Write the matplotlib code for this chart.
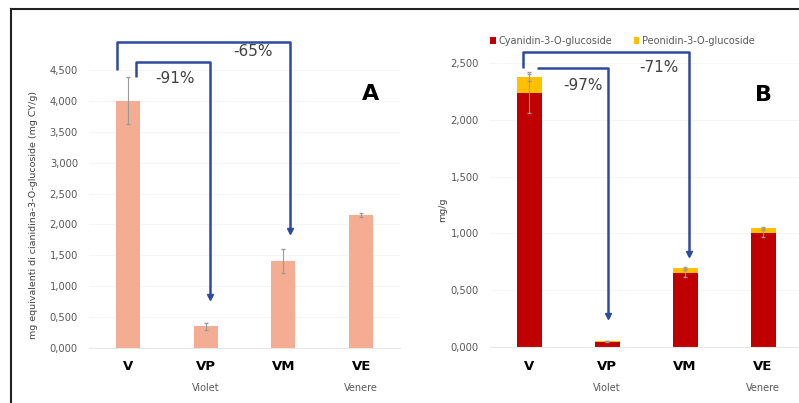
import matplotlib
matplotlib.use("Agg")
import matplotlib.pyplot as plt
import matplotlib.transforms as mtransforms
from matplotlib.lines import Line2D
from matplotlib.ticker import FuncFormatter
import numpy as np

plt.rcParams['font.family'] = ['DejaVu Sans']

categories = ["V", "VP", "VM", "VE"]
groups = {"Violet": 1, "Venere": 3}

# Panel A: total anthocyanins (mg CY/g)
a_values = [4.00, 0.35, 1.41, 2.15]
a_errors = [0.38, 0.06, 0.20, 0.03]

# Panel B: individual anthocyanins (mg/g)
b_cyanidin = [2.24, 0.045, 0.65, 1.00]
b_peonidin = [0.135, 0.010, 0.045, 0.05]
b_cy_err = [0.18, 0.005, 0.03, 0.03]
b_pe_err = [0.03, 0.002, 0.01, 0.01]

a_labels = ["-91%", "-65%"]
b_labels = ["-97%", "-71%"]

W, H = 799, 403
fig = plt.figure(figsize=(W / 100, H / 100), dpi=100)

def px_axes(l, r, top, bottom):
    return fig.add_axes([l / W, 1 - bottom / H, (r - l) / W, (bottom - top) / H])

salmon = "#F4AC92"
red = "#C00000"
yellow = "#FFC000"
blue = "#2E4B9B"
gray_txt = "#595959"

fmt = FuncFormatter(lambda v, p: f"{v:.3f}".replace(".", ","))

def style(ax, ymax, step, xmax=3.5):
    ax.set_xlim(-0.5, xmax)
    ax.set_ylim(0, ymax)
    ax.set_yticks(np.arange(0, ymax + 1e-9, step))
    ax.yaxis.set_major_formatter(fmt)
    for s in ["top", "right", "left"]:
        ax.spines[s].set_visible(False)
    ax.spines["bottom"].set_color("#E8E8E8")
    ax.tick_params(axis="both", length=0)
    ax.tick_params(axis="y", labelsize=7.2, labelcolor=gray_txt, pad=8)
    ax.set_xticks(range(len(categories)))
    ax.set_xticklabels(categories, fontsize=9.5, fontweight="bold")
    ax.tick_params(axis="x", pad=9)
    ax.grid(axis="y", color="#F5F5F5", lw=0.8)
    ax.set_axisbelow(True)
    ax.patch.set_alpha(0)
    tr = mtransforms.blended_transform_factory(ax.transData, fig.transFigure)
    for name, xi in groups.items():
        fig.text(xi, 1 - 388 / H, name, transform=tr, ha="center", va="center",
                 fontsize=7, color=gray_txt)

def bracket(ax, x0, y0, ytop, x1, yend, label, lx, ly):
    ax.plot([x0, x0, x1, x1], [y0, ytop, ytop, yend + 0.03 * ax.get_ylim()[1]],
            color=blue, lw=1.8, clip_on=False, solid_capstyle="butt", zorder=5)
    ax.plot([x1], [yend + 0.02 * ax.get_ylim()[1]], marker="v", color=blue, ms=5,
            clip_on=False, zorder=5)
    ax.text(lx, ly, label, fontsize=11, color="#404040", ha="center", va="center")

x = np.arange(len(categories))

# ---------- Panel A ----------
axA = px_axes(89.1, 400, 70, 348)
style(axA, 4.5, 0.5)
axA.bar(x, a_values, width=0.31, color=salmon, zorder=2)
axA.errorbar(x, a_values, yerr=a_errors, fmt="none", ecolor="#9A9A9A", elinewidth=0.8,
             capsize=1.2, zorder=3)
fig.text(34 / W, 1 - 215 / H, "mg equivalenti di cianidina-3-O-glucoside (mg CY/g)",
         rotation=90, ha="center", va="center", fontsize=6.8, color="#404040")
bracket(axA, -0.14, 4.50, 4.95, 2.08, 1.80, a_labels[1], 1.61, 4.80)
bracket(axA, 0.10, 4.38, 4.63, 1.06, 0.73, a_labels[0], 0.60, 4.37)
axA.text(3.12, 4.11, "A", fontsize=16, fontweight="bold", ha="center", va="center")

# ---------- Panel B ----------
axB = px_axes(490, 799, 63, 347)
style(axB, 2.5, 0.5, xmax=3.46)
axB.bar(x, b_cyanidin, width=0.32, color=red, zorder=2, label="Cyanidin-3-O-glucoside")
axB.bar(x, b_peonidin, bottom=b_cyanidin, width=0.32, color=yellow, zorder=2,
        label="Peonidin-3-O-glucoside")
axB.errorbar(x, b_cyanidin, yerr=b_cy_err, fmt="none", ecolor="#9A9A9A", elinewidth=0.8,
             capsize=1.2, zorder=3)
tot = np.array(b_cyanidin) + np.array(b_peonidin)
axB.errorbar(x, tot, yerr=b_pe_err, fmt="none", ecolor="#9A9A9A", elinewidth=0.8,
             capsize=1.2, zorder=3)
fig.text(443 / W, 1 - 210 / H, "mg/g", rotation=90, ha="center", va="center",
         fontsize=6.8, color="#404040")
bracket(axB, -0.08, 2.456, 2.60, 2.05, 0.766, b_labels[1], 1.66, 2.46)
bracket(axB, 0.10, 2.46, 2.46, 1.01, 0.22, b_labels[0], 0.69, 2.30)
axB.text(3.0, 2.22, "B", fontsize=16, fontweight="bold", ha="center", va="center")
axB.legend(loc="center left", bbox_to_anchor=(481 / W, 1 - 41 / H),
           bbox_transform=fig.transFigure, ncol=2, frameon=False, fontsize=7,
           handlelength=0.6, handleheight=0.6, handletextpad=0.3, columnspacing=2.2,
           labelcolor=gray_txt)

# Frame lines (top and left border)
fig.add_artist(Line2D([11 / W, 1], [1 - 9 / H, 1 - 9 / H], transform=fig.transFigure,
                      color="#222222", lw=1.5))
fig.add_artist(Line2D([11 / W, 11 / W], [0, 1 - 9 / H], transform=fig.transFigure,
                      color="#222222", lw=1.5))

fig.savefig("out.png", dpi=100)
